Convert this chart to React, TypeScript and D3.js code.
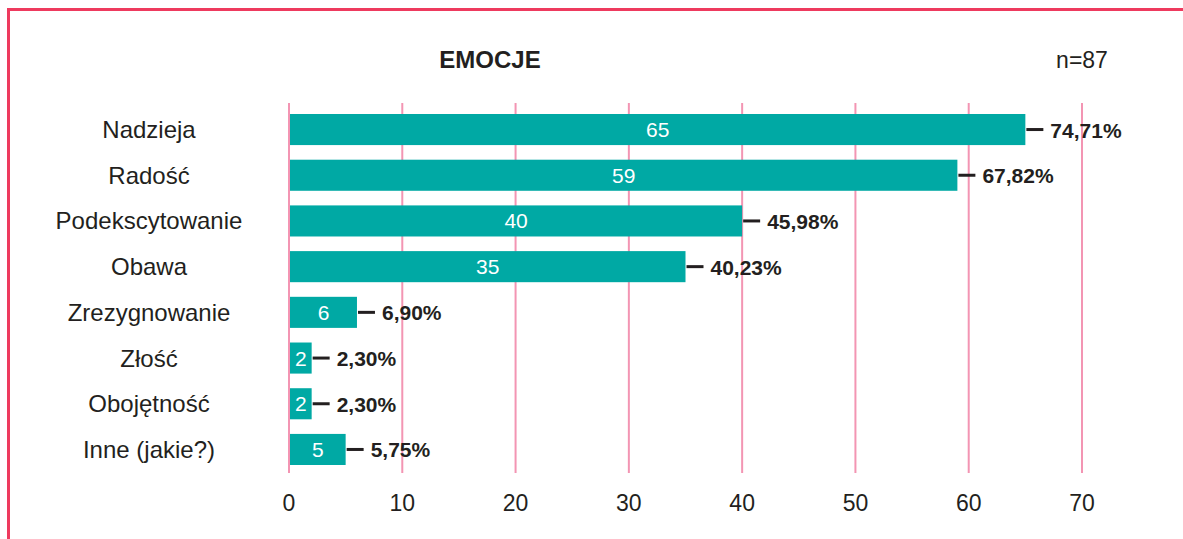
import React from 'react';
import * as d3 from 'd3';

const categories = ['Nadzieja', 'Radość', 'Podekscytowanie', 'Obawa', 'Zrezygnowanie', 'Złość', 'Obojętność', 'Inne (jakie?)'];
const counts = [65, 59, 40, 35, 6, 2, 2, 5];
const percents = ['74,71%', '67,82%', '45,98%', '40,23%', '6,90%', '2,30%', '2,30%', '5,75%'];
const ticks = [0, 10, 20, 30, 40, 50, 60, 70];
const title = 'EMOCJE';
const sampleLabel = 'n=87';

const W = 1183;
const H = 539;
const font = '"Liberation Sans", Arial, Helvetica, sans-serif';

function App() {
    const x = d3.scaleLinear().domain([0, 70]).range([289, 1082]);
    const y = d3.scaleBand<string>()
        .domain(categories)
        .range([114, 465])
        .paddingInner(0.32)
        .paddingOuter(0);

    return (
        <svg width={W} height={H} style={{position: 'absolute', left: 0, top: 0, background: '#fff'}}>
            {/* frame */}
            <line x1={7} x2={W} y1={9.5} y2={9.5} stroke="#ee3a5e" strokeWidth={3} />
            <line x1={8.5} x2={8.5} y1={8} y2={H} stroke="#ee3a5e" strokeWidth={3} />

            <text x={490} y={68} textAnchor="middle" fontFamily={font} fontWeight="bold" fontSize={24} fill="#231f20">{title}</text>
            <text x={1082} y={68} textAnchor="middle" fontFamily={font} fontSize={23} fill="#231f20">{sampleLabel}</text>

            {/* grid */}
            {ticks.map((t) => (
                <g key={t}>
                    <line x1={x(t)} x2={x(t)} y1={103} y2={473} stroke="#f395b3" strokeWidth={2} />
                    <text x={x(t)} y={511} textAnchor="middle" fontFamily={font} fontSize={23} fill="#231f20">{t}</text>
                </g>
            ))}

            {categories.map((c, i) => {
                const y0 = y(c) as number;
                const bw = y.bandwidth();
                const cy = y0 + bw / 2;
                const end = x(counts[i]);
                return (
                    <g key={c}>
                        <text x={149} y={cy + 8.5} textAnchor="middle" fontFamily={font} fontSize={24} fill="#231f20">{c}</text>
                        <rect x={x(0) + 1} y={y0} width={end - x(0) - 1} height={bw} fill="#00a9a4" />
                        <text x={(x(0) + end) / 2 + 0.5} y={cy + 7.5} textAnchor="middle" fontFamily={font} fontSize={21} fill="#fff">{counts[i]}</text>
                        <line x1={end + 1} x2={end + 18} y1={cy} y2={cy} stroke="#231f20" strokeWidth={3} />
                        <text x={end + 25} y={cy + 8} fontFamily={font} fontWeight="bold" fontSize={21} fill="#231f20">{percents[i]}</text>
                    </g>
                );
            })}
        </svg>
    );
}

export default App;
